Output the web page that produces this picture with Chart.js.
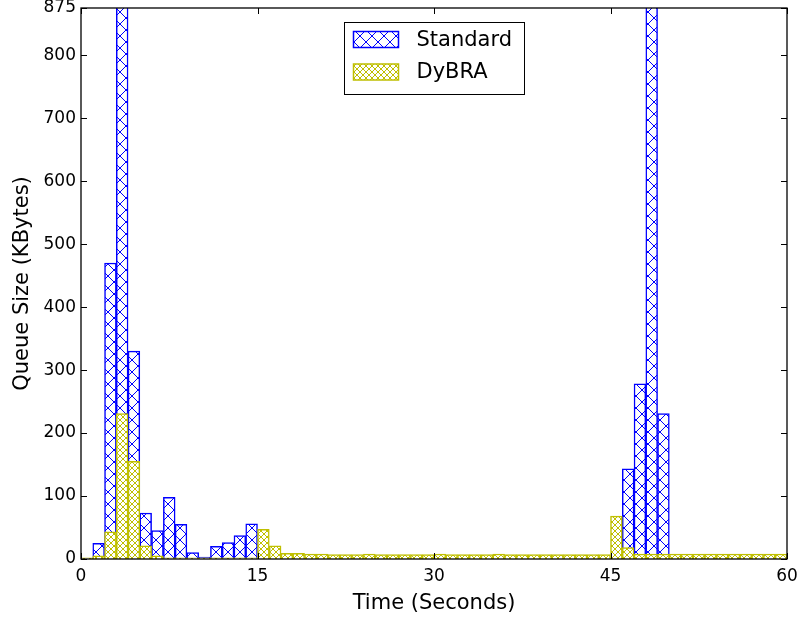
<!DOCTYPE html>
<html>
<head>
<meta charset="utf-8">
<script src="https://cdn.jsdelivr.net/npm/chart.js@4/dist/chart.umd.min.js"></script>
<style>
  html, body { margin: 0; padding: 0; background: #fff; }
  canvas { display: block; }
</style>
</head>
<body>
<canvas id="chart" width="801" height="618"></canvas>
<script>
// start of each 1-second bin
const seconds = [
  0, 1, 2, 3, 4, 5, 6, 7, 8, 9, 10, 11, 12, 13, 14, 15, 16, 17, 18, 19,
  20, 21, 22, 23, 24, 25, 26, 27, 28, 29, 30, 31, 32, 33, 34, 35, 36, 37, 38, 39,
  40, 41, 42, 43, 44, 45, 46, 47, 48, 49, 50, 51, 52, 53, 54, 55, 56, 57, 58, 59
];
// queue size (KBytes) per bin
const standard = [
  0, 25, 470, 1000, 330, 73, 45, 98, 55, 10, 3, 20, 26, 37, 56, 0, 0, 0, 0, 0,
  0, 0, 0, 0, 0, 0, 0, 0, 0, 0, 0, 0, 0, 0, 0, 0, 0, 0, 0, 0,
  0, 0, 0, 0, 0, 0, 143, 278, 1000, 231, 0, 0, 0, 0, 0, 0, 0, 0, 0, 0
];
const dybra = [
  2, 5, 43, 231, 155, 21, 5, 2, 2, 2, 2, 2, 2, 2, 2, 47, 21, 9, 9, 8,
  8, 7, 7, 7, 8, 7, 7, 7, 7, 7, 8, 7, 7, 7, 7, 8, 7, 7, 7, 7,
  7, 7, 7, 7, 7, 68, 18, 8, 8, 8, 8, 8, 8, 8, 8, 8, 8, 8, 8, 8
];
const yTicks = [0, 100, 200, 300, 400, 500, 600, 700, 800, 875];
const xTicks = [0, 15, 30, 45, 60];

const FAMILY = '"DejaVu Sans", sans-serif';
const BLUE = '#0000ff';
const YELLOW = '#bfbf00';

function hatch(color, size) {
  const c = document.createElement('canvas');
  c.width = c.height = size;
  const g = c.getContext('2d');
  g.fillStyle = '#fff';
  g.fillRect(0, 0, size, size);
  g.strokeStyle = color;
  g.lineWidth = 1;
  g.beginPath();
  g.moveTo(0, 0); g.lineTo(size, size);
  g.moveTo(0, size); g.lineTo(size, 0);
  g.stroke();
  return g.createPattern(c, 'repeat');
}
const bluePat = hatch(BLUE, 12);
const yellowPat = hatch(YELLOW, 6);

// frame, inward ticks and the boxed legend inside the plot
const framePlugin = {
  id: 'frame',
  afterDraw(chart) {
    const ctx = chart.ctx;
    const { left, right, top, bottom } = chart.chartArea;
    const xs = chart.scales.x, ys = chart.scales.y;
    ctx.save();
    ctx.strokeStyle = '#000';
    ctx.lineWidth = 1;
    ctx.beginPath();
    yTicks.forEach(v => {
      const y = Math.round(ys.getPixelForValue(v)) + 0.5;
      ctx.moveTo(left, y); ctx.lineTo(left + 6, y);
      ctx.moveTo(right, y); ctx.lineTo(right - 6, y);
    });
    xTicks.forEach(v => {
      const x = Math.round(xs.getPixelForValue(v)) + 0.5;
      ctx.moveTo(x, bottom); ctx.lineTo(x, bottom - 6);
      ctx.moveTo(x, top); ctx.lineTo(x, top + 6);
    });
    ctx.stroke();
    ctx.lineWidth = 1.3;
    ctx.strokeRect(left, top, right - left, bottom - top);

    // legend
    const bw = 180, bh = 72;
    const bx = Math.round((left + right) / 2 - bw / 2) + 0.5;
    const by = top + 14.5;
    ctx.fillStyle = '#fff';
    ctx.fillRect(bx, by, bw, bh);
    ctx.lineWidth = 1;
    ctx.strokeStyle = '#000';
    ctx.strokeRect(bx, by, bw, bh);
    const items = [
      { label: chart.data.datasets[0].label, pat: bluePat, color: BLUE, y: by + 9 },
      { label: chart.data.datasets[1].label, pat: yellowPat, color: YELLOW, y: by + 41.5 }
    ];
    ctx.font = '21px ' + FAMILY;
    ctx.textBaseline = 'middle';
    items.forEach(it => {
      ctx.fillStyle = it.pat;
      ctx.fillRect(bx + 9, it.y, 45, 16);
      ctx.strokeStyle = it.color;
      ctx.lineWidth = 1.5;
      ctx.strokeRect(bx + 9, it.y, 45, 16);
      ctx.fillStyle = '#000';
      ctx.fillText(it.label, bx + 72, it.y + 9);
    });
    ctx.restore();
  }
};

const tickFont = { family: FAMILY, size: 17 };
const titleFont = { family: FAMILY, size: 21 };

new Chart(document.getElementById('chart'), {
  type: 'bar',
  data: {
    datasets: [
      {
        label: 'Standard',
        data: seconds.map((s, i) => ({ x: s + 0.5, y: standard[i] })),
        backgroundColor: bluePat,
        borderColor: BLUE,
        borderWidth: 1.5,
        grouped: false,
        order: 1,
        barPercentage: 1,
        categoryPercentage: 1
      },
      {
        label: 'DyBRA',
        data: seconds.map((s, i) => ({ x: s + 0.5, y: dybra[i] })),
        backgroundColor: yellowPat,
        borderColor: YELLOW,
        borderWidth: 1.5,
        grouped: false,
        order: 0,
        barPercentage: 1,
        categoryPercentage: 1
      }
    ]
  },
  options: {
    responsive: false,
    animation: false,
    devicePixelRatio: 1,
    layout: { padding: { left: 0, right: 14, top: 8, bottom: 0 } },
    plugins: { legend: { display: false }, tooltip: { enabled: false } },
    scales: {
      x: {
        type: 'linear',
        min: 0,
        max: 60,
        offset: false,
        afterBuildTicks: s => { s.ticks = xTicks.map(v => ({ value: v })); },
        afterFit: s => { s.height = 59; s.paddingLeft = 0; s.paddingRight = 0; },
        grid: { display: false, drawTicks: false, offset: false },
        border: { display: false },
        ticks: { font: tickFont, color: '#000', padding: 7, maxRotation: 0, autoSkip: false },
        title: { display: true, text: 'Time (Seconds)', font: titleFont, color: '#000', padding: { top: 0, bottom: 2 } }
      },
      y: {
        min: 0,
        max: 875,
        afterBuildTicks: s => { s.ticks = yTicks.map(v => ({ value: v })); },
        afterFit: s => { s.width = 81; s.paddingTop = 0; s.paddingBottom = 0; },
        grid: { display: false, drawTicks: false },
        border: { display: false },
        ticks: { font: tickFont, color: '#000', padding: 5 },
        title: { display: true, text: 'Queue Size (KBytes)', font: titleFont, color: '#000', padding: { top: 10 } }
      }
    }
  },
  plugins: [framePlugin]
});
</script>
</body>
</html>
